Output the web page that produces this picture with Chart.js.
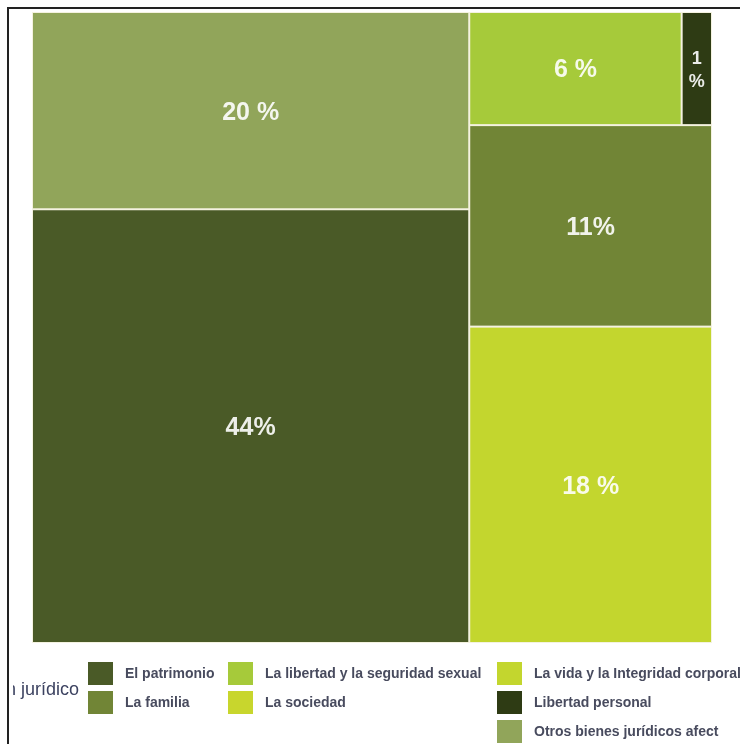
<!DOCTYPE html>
<html>
<head>
<meta charset="utf-8">
<title>Bien jurídico</title>
<script src="https://cdn.jsdelivr.net/npm/chart.js@4.4.1/dist/chart.umd.min.js"></script>
<style>
    body { margin: 0; background: #ffffff; }
    #wrap { width: 740px; height: 744px; }
</style>
</head>
<body>
<div id="wrap">
    <canvas id="myChart" width="740" height="744"></canvas>
</div>

<script>
// data //

const categories = ['El patrimonio', 'La familia', 'La libertad y la seguridad sexual', 'La sociedad',
                    'La vida y la Integridad corporal', 'Libertad personal', 'Otros bienes jurídicos afect'];
const shares = [44.2, 11.4, 5.6, 0, 17.9, 0.8, 20.1];
const cellLabels = ['44%', '11%', '6 %', '', '18 %', '1 %', '20 %'];
const colors = ['#4a5a27', '#718536', '#a6ca3a', '#c8d62d', '#c3d62e', '#2e3b14', '#91a55a'];

// treemap grouping: which column, and which row inside that column
const columnOf = [0, 1, 1, 1, 1, 1, 0];
const rowOf = [1, 1, 0, 0, 2, 0, 0];

const legendTitle = 'Bien jurídico';
// legend columns (indexes into categories)
const legendColumns = [[0, 1], [2, 3], [4, 5, 6]];


// functions //

// slice and dice layout in value space 0..100 x 0..100
function layoutCells() {
    let total = shares.reduce((a, b) => a + b, 0);
    let cells = [];
    let nCols = Math.max(...columnOf) + 1;
    let x = 0;

    for (let c = 0; c < nCols; c++) {
        let colSum = 0;
        shares.forEach((v, i) => { if (columnOf[i] === c) colSum += v; });
        let colW = colSum / total * 100;
        let nRows = Math.max(...rowOf.filter((r, i) => columnOf[i] === c)) + 1;
        let y = 0;

        for (let r = 0; r < nRows; r++) {
            let idx = [];
            shares.forEach((v, i) => { if (columnOf[i] === c && rowOf[i] === r && v > 0) idx.push(i); });
            let rowSum = idx.reduce((a, i) => a + shares[i], 0);
            let rowH = rowSum / colSum * 100;
            let cx = x;
            idx.forEach(i => {
                let w = shares[i] / rowSum * colW;
                cells.push({ i: i, x0: cx, x1: cx + w, y0: y, y1: y + rowH });
                cx += w;
            });
            y += rowH;
        }
        x += colW;
    }
    return cells;
}

const treemapPlugin = {
    id: 'treemap',
    beforeDatasetsDraw(chart) {
        const ctx = chart.ctx;
        const xs = chart.scales.x;
        const ys = chart.scales.y;
        const area = chart.chartArea;

        ctx.save();
        ctx.fillStyle = '#f4f2e0';
        ctx.fillRect(area.left, area.top, area.right - area.left, area.bottom - area.top);

        layoutCells().forEach(cell => {
            let l = xs.getPixelForValue(cell.x0);
            let r = xs.getPixelForValue(cell.x1);
            let t = ys.getPixelForValue(cell.y0);
            let b = ys.getPixelForValue(cell.y1);
            ctx.fillStyle = colors[cell.i];
            ctx.fillRect(l + 1, t + 1, r - l - 2, b - t - 2);

            // label
            let text = cellLabels[cell.i];
            let size = 25;
            ctx.font = 'bold ' + size + 'px "Liberation Sans", Arial, sans-serif';
            let lines = [text];
            if (ctx.measureText(text).width > (r - l) - 8) {
                size = 18;
                ctx.font = 'bold ' + size + 'px "Liberation Sans", Arial, sans-serif';
                lines = text.split(' ');
            }
            ctx.fillStyle = 'rgba(255, 255, 255, 0.9)';
            ctx.textAlign = 'center';
            ctx.textBaseline = 'middle';
            let lh = size * 1.3;
            let startY = (t + b) / 2 + 2 - (lines.length - 1) * lh / 2;
            lines.forEach((ln, k) => ctx.fillText(ln, (l + r) / 2, startY + k * lh));
        });
        ctx.restore();
    },
    afterDraw(chart) {
        const ctx = chart.ctx;
        ctx.save();

        // legend
        const colX = [88, 228, 497];
        const rowY = [662, 691, 720];
        ctx.font = 'bold 14px "Liberation Sans", Arial, sans-serif';
        ctx.textAlign = 'left';
        ctx.textBaseline = 'middle';
        legendColumns.forEach((col, c) => {
            col.forEach((i, r) => {
                ctx.fillStyle = colors[i];
                ctx.fillRect(colX[c], rowY[r], 25, 23);
                ctx.fillStyle = '#484b5e';
                ctx.fillText(categories[i], colX[c] + 37, rowY[r] + 12);
            });
        });

        // legend title, cut off on the left like the original
        ctx.beginPath();
        ctx.rect(13, 640, 80, 100);
        ctx.clip();
        ctx.font = '18px "Liberation Sans", Arial, sans-serif';
        ctx.textAlign = 'right';
        ctx.fillStyle = '#3c4260';
        ctx.fillText(legendTitle, 79, 690);
        ctx.restore();

        // frame (top and left edge)
        ctx.save();
        ctx.fillStyle = '#222222';
        ctx.fillRect(7, 7, 733, 2);
        ctx.fillRect(7, 7, 2, 737);
        ctx.restore();
    }
};


// MAIN //

document.addEventListener("DOMContentLoaded", function() {

    let ctx = document.getElementById('myChart').getContext('2d');
    let myChart = new Chart(ctx, {
        type: 'scatter',
        data: {
            datasets: [{
                label: legendTitle,
                data: [],
                pointRadius: 0
            }]
        },
        options: {
            responsive: false,
            animation: false,
            layout: {
                padding: { left: 32, right: 28, top: 12, bottom: 101 }
            },
            scales: {
                x: { type: 'linear', min: 0, max: 100, display: false },
                y: { type: 'linear', min: 0, max: 100, reverse: true, display: false }
            },
            plugins: {
                legend: { display: false },
                tooltip: { enabled: false }
            }
        },
        plugins: [treemapPlugin]
    });
});
</script>
</body>
</html>
